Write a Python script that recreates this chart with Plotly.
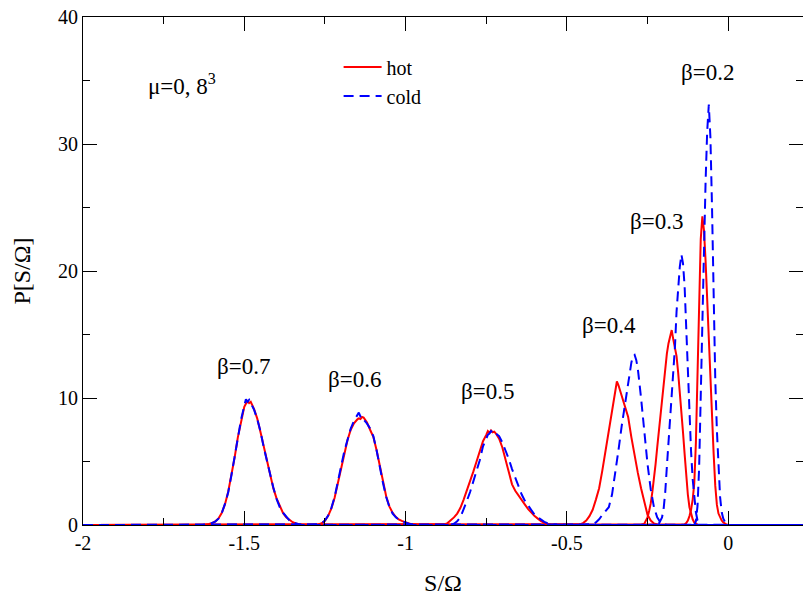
import plotly.graph_objects as go

# Histograms P[S/Omega] of the action density, mu=0, 8^3 lattice.
# Each run covers S/Omega in [-2, 0.25]; values are zero away from the peak.

# beta = 0.7
hot07_s = [-2.0, -1.63, -1.61, -1.60, -1.59, -1.58, -1.57, -1.56, -1.55, -1.54, -1.53, -1.52,
           -1.51, -1.50, -1.495, -1.49, -1.485, -1.48, -1.47, -1.46, -1.45, -1.44, -1.43, -1.42,
           -1.41, -1.40, -1.39, -1.38, -1.37, -1.36, -1.35, -1.34, -1.33, -1.32, 0.25]
hot07_p = [0, 0, 0.08, 0.14, 0.28, 0.52, 0.95, 1.62, 2.6, 3.85, 5.3, 6.9,
           8.25, 9.3, 9.55, 9.75, 9.6, 9.7, 9.15, 8.4, 7.35, 6.2, 5.0, 3.9,
           2.9, 2.1, 1.45, 0.95, 0.6, 0.38, 0.22, 0.12, 0.05, 0, 0]
cold07_s = hot07_s
cold07_p = [0, 0, 0.07, 0.15, 0.27, 0.5, 0.92, 1.66, 2.55, 3.9, 5.35, 6.85,
            8.3, 9.4, 9.9, 9.7, 9.85, 9.6, 9.1, 8.35, 7.4, 6.15, 5.05, 3.85,
            2.95, 2.05, 1.4, 0.97, 0.62, 0.36, 0.23, 0.11, 0.05, 0, 0]

# beta = 0.6
hot06_s = [-2.0, -1.29, -1.27, -1.26, -1.25, -1.24, -1.23, -1.22, -1.21, -1.20, -1.19, -1.18,
           -1.17, -1.16, -1.15, -1.145, -1.14, -1.135, -1.13, -1.12, -1.11, -1.10, -1.09, -1.08,
           -1.07, -1.06, -1.05, -1.04, -1.03, -1.02, -1.01, -1.00, -0.99, -0.98, -0.96, 0.25]
hot06_p = [0, 0, 0.04, 0.14, 0.33, 0.72, 1.3, 2.15, 3.25, 4.5, 5.7, 6.7,
           7.5, 8.0, 8.3, 8.4, 8.35, 8.5, 8.45, 8.1, 7.5, 6.95, 5.9, 4.6,
           3.35, 2.25, 1.45, 0.95, 0.62, 0.42, 0.3, 0.2, 0.11, 0.05, 0, 0]
cold06_s = hot06_s
cold06_p = [0, 0, 0.05, 0.15, 0.35, 0.75, 1.35, 2.2, 3.3, 4.6, 5.8, 6.8,
            7.6, 8.2, 8.6, 8.85, 8.55, 8.6, 8.3, 8.0, 7.6, 7.0, 5.9, 4.5,
            3.3, 2.2, 1.4, 0.9, 0.6, 0.4, 0.28, 0.18, 0.1, 0.05, 0, 0]

# beta = 0.5
hot05_s = [-2.0, -0.90, -0.88, -0.87, -0.86, -0.85, -0.84, -0.83, -0.82, -0.81, -0.80, -0.79,
           -0.78, -0.77, -0.76, -0.75, -0.745, -0.74, -0.735, -0.73, -0.725, -0.72, -0.71, -0.70,
           -0.69, -0.68, -0.67, -0.66, -0.65, -0.64, -0.63, -0.62, -0.61, -0.60, -0.59, -0.58,
           -0.57, -0.56, -0.55, -0.54, 0.25]
hot05_p = [0, 0, 0.05, 0.15, 0.35, 0.6, 0.9, 1.35, 2.0, 2.7, 3.4, 4.2,
           5.0, 5.9, 6.6, 7.1, 7.4, 7.25, 7.45, 7.3, 7.35, 7.2, 6.8, 6.1,
           5.1, 4.0, 3.2, 2.7, 2.3, 1.9, 1.6, 1.25, 0.95, 0.7, 0.5, 0.3,
           0.18, 0.08, 0.03, 0, 0]
cold05_s = hot05_s
cold05_p = [0, 0, 0, 0, 0, 0.1, 0.3, 0.6, 1.2, 1.9, 2.6, 3.4,
            4.2, 5.1, 6.2, 6.8, 7.1, 7.2, 7.4, 7.3, 7.4, 7.2, 7.0, 6.5,
            5.9, 5.2, 4.4, 3.7, 3.0, 2.4, 1.9, 1.5, 1.1, 0.8, 0.6, 0.4,
            0.25, 0.14, 0.07, 0.03, 0]

# beta = 0.4
hot04_s = [-2.0, -0.47, -0.46, -0.45, -0.44, -0.43, -0.42, -0.41, -0.40, -0.39, -0.38, -0.37,
           -0.36, -0.35, -0.345, -0.34, -0.335, -0.33, -0.32, -0.31, -0.30, -0.29, -0.28, -0.27,
           -0.26, -0.25, -0.24, -0.23, -0.22, -0.21, 0.25]
hot04_p = [0, 0, 0.05, 0.15, 0.35, 0.7, 1.2, 2.0, 2.9, 4.3, 5.8, 7.4,
           9.0, 10.4, 11.3, 11.0, 10.6, 10.2, 9.3, 8.5, 6.9, 5.4, 4.1, 2.9,
           1.8, 0.8, 0.35, 0.12, 0.04, 0, 0]
cold04_s = [-2.0, -0.43, -0.42, -0.41, -0.40, -0.39, -0.38, -0.37, -0.36, -0.35, -0.34, -0.33,
            -0.32, -0.31, -0.30, -0.295, -0.29, -0.285, -0.28, -0.27, -0.26, -0.25, -0.24, -0.23,
            -0.22, -0.21, -0.20, -0.19, 0.25]
cold04_p = [0, 0, 0.05, 0.2, 0.45, 0.8, 1.1, 1.4, 2.4, 4.0, 5.9, 7.8,
            9.6, 11.4, 12.8, 13.3, 13.4, 13.0, 12.3, 10.0, 7.3, 4.8, 2.8, 1.4,
            0.6, 0.2, 0.05, 0, 0]

# beta = 0.3
hot03_s = [-2.0, -0.27, -0.26, -0.255, -0.25, -0.245, -0.24, -0.235, -0.23, -0.225, -0.22, -0.215,
           -0.21, -0.205, -0.20, -0.195, -0.19, -0.185, -0.18, -0.175, -0.17, -0.165, -0.16, -0.155,
           -0.15, -0.145, -0.14, -0.135, -0.13, -0.125, -0.12, -0.115, -0.11, -0.105, -0.10, -0.095,
           -0.09, 0.25]
hot03_p = [0, 0, 0.1, 0.3, 0.6, 1.1, 1.7, 2.6, 3.6, 4.8, 6.1, 7.4,
           8.6, 9.8, 11.0, 12.4, 13.5, 14.3, 14.9, 15.35, 14.6, 14.0, 13.3, 12.0,
           10.6, 9.0, 7.3, 5.6, 3.8, 2.4, 1.4, 0.8, 0.45, 0.2, 0.08, 0.03,
           0, 0]
cold03_s = [-2.0, -0.22, -0.215, -0.21, -0.205, -0.20, -0.195, -0.19, -0.185, -0.18, -0.175, -0.17,
            -0.165, -0.16, -0.155, -0.15, -0.145, -0.14, -0.135, -0.13, -0.125, -0.12, -0.115, -0.11,
            -0.105, -0.10, -0.095, -0.09, -0.085, 0.25]
cold03_p = [0, 0, 0.1, 0.3, 0.6, 1.3, 2.6, 4.6, 6.5, 8.2, 10.0, 11.6,
            14.0, 16.8, 18.8, 20.3, 21.3, 20.6, 18.8, 15.2, 11.8, 8.4, 5.8, 3.6,
            2.0, 1.0, 0.35, 0.1, 0, 0]

# beta = 0.2
hot02_s = [-2.0, -0.145, -0.135, -0.13, -0.125, -0.12, -0.115, -0.11, -0.105, -0.10, -0.095, -0.09,
           -0.085, -0.08, -0.075, -0.07, -0.065, -0.06, -0.055, -0.05, -0.045, -0.04, -0.035, -0.03,
           -0.025, -0.02, -0.015, -0.01, -0.005, 0.0, 0.25]
hot02_p = [0, 0, 0.05, 0.15, 0.35, 0.7, 1.2, 2.0, 3.3, 6.5, 12.5, 18.5,
           22.5, 24.3, 23.2, 20.8, 17.6, 14.6, 11.6, 8.5, 5.6, 3.1, 1.6, 0.9,
           0.6, 0.35, 0.2, 0.1, 0.04, 0, 0]
cold02_s = [-2.0, -0.105, -0.10, -0.095, -0.09, -0.085, -0.08, -0.075, -0.07, -0.065, -0.06, -0.055,
            -0.05, -0.045, -0.04, -0.035, -0.03, -0.025, -0.02, -0.015, -0.01, -0.005, 0.0, 0.25]
cold02_p = [0, 0, 0.3, 1.5, 4.5, 9.5, 15.0, 21.5, 27.0, 31.0, 33.1, 30.5,
            25.0, 17.5, 11.5, 7.5, 4.5, 2.2, 1.0, 0.5, 0.25, 0.1, 0, 0]

hot_runs = [(hot07_s, hot07_p), (hot06_s, hot06_p), (hot05_s, hot05_p),
            (hot04_s, hot04_p), (hot03_s, hot03_p), (hot02_s, hot02_p)]
cold_runs = [(cold07_s, cold07_p), (cold06_s, cold06_p), (cold05_s, cold05_p),
             (cold04_s, cold04_p), (cold03_s, cold03_p), (cold02_s, cold02_p)]

# peak labels: text, S/Omega position, P position
beta_labels = ["β=0.7", "β=0.6", "β=0.5", "β=0.4", "β=0.3", "β=0.2"]
beta_label_s = [-1.504, -1.157, -0.745, -0.370, -0.221, -0.063]
beta_label_p = [12.45, 11.45, 10.5, 15.7, 23.9, 35.65]

x_ticks = [-2, -1.5, -1, -0.5, 0]
x_tick_text = ["-2", "-1.5", "-1", "-0.5", "0"]
y_ticks = [0, 10, 20, 30, 40]

SERIF = "Liberation Serif, Times New Roman, serif"
RED = "#ff0000"
BLUE = "#0000ff"

fig = go.Figure()

for i, (s, p) in enumerate(hot_runs):
    fig.add_trace(go.Scatter(
        x=s, y=p, mode="lines", name="hot",
        showlegend=(i == 0), line=dict(color=RED, width=2)))

for i, (s, p) in enumerate(cold_runs):
    fig.add_trace(go.Scatter(
        x=s, y=p, mode="lines", name="cold",
        showlegend=(i == 0), line=dict(color=BLUE, width=2, dash="10px,6px")))

# carrier for the right-hand tick marks
fig.add_trace(go.Scatter(x=[], y=[], yaxis="y2", showlegend=False, hoverinfo="skip"))

for txt, sx, py in zip(beta_labels, beta_label_s, beta_label_p):
    fig.add_annotation(x=sx, y=py, text=txt, showarrow=False,
                       xanchor="center", yanchor="middle",
                       font=dict(family=SERIF, size=23, color="black"))

fig.add_annotation(x=-1.805, y=34.65, text="μ=0, 8<sup>3</sup>", showarrow=False,
                   xanchor="left", yanchor="middle",
                   font=dict(family=SERIF, size=23, color="black"))

fig.update_layout(
    width=803, height=596,
    margin=dict(l=83, r=0, t=17, b=71),
    paper_bgcolor="white", plot_bgcolor="white",
    font=dict(family=SERIF, size=20, color="black"),
    showlegend=True,
    legend=dict(x=0.355, y=0.94, xanchor="left", yanchor="top",
                bgcolor="rgba(0,0,0,0)", borderwidth=0,
                font=dict(family=SERIF, size=20, color="black"),
                tracegroupgap=0, itemwidth=38),
    xaxis=dict(range=[-2, 0.232], tickvals=x_ticks, ticktext=x_tick_text,
               showgrid=False, zeroline=False,
               showline=True, linecolor="black", linewidth=1, mirror="ticks",
               ticks="inside", ticklen=14, tickwidth=1, tickcolor="black",
               minor=dict(dtick=0.25, ticks="inside", ticklen=7, tickwidth=1, tickcolor="black"),
               tickfont=dict(family=SERIF, size=20),
               title=dict(text="S/Ω", font=dict(family=SERIF, size=24), standoff=22)),
    yaxis=dict(range=[0, 40], tickvals=y_ticks,
               showgrid=False, zeroline=False,
               showline=True, linecolor="black", linewidth=1, mirror=False,
               ticks="inside", ticklen=14, tickwidth=1, tickcolor="black",
               minor=dict(dtick=5, ticks="inside", ticklen=7, tickwidth=1, tickcolor="black"),
               tickfont=dict(family=SERIF, size=20),
               title=dict(text="P[S/Ω]", font=dict(family=SERIF, size=24), standoff=20)),
    yaxis2=dict(range=[0, 40], overlaying="y", side="right", tickvals=y_ticks,
                showgrid=False, zeroline=False, showline=False, showticklabels=False,
                ticks="inside", ticklen=14, tickwidth=1, tickcolor="black",
                minor=dict(dtick=5, ticks="inside", ticklen=7, tickwidth=1, tickcolor="black")),
)

fig.write_html("out.html")
